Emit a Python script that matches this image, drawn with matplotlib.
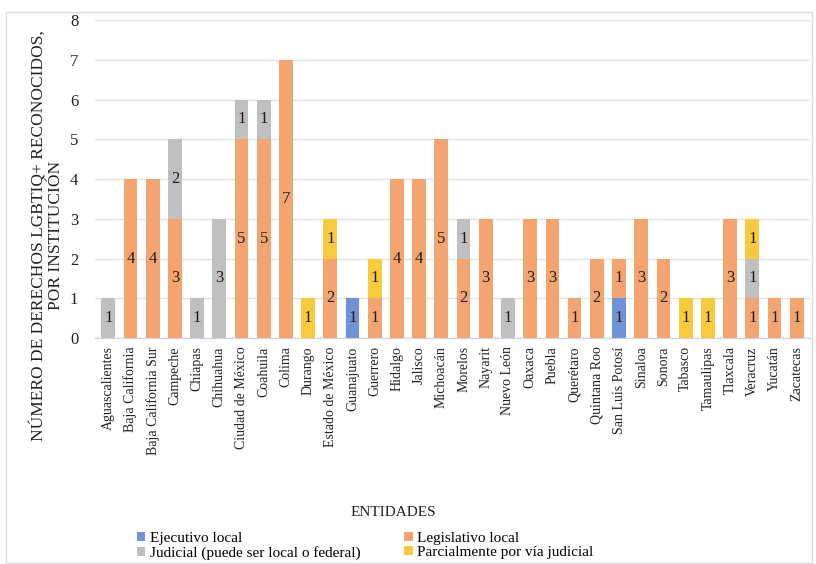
import numpy as np
import matplotlib.pyplot as plt
from matplotlib.patches import Rectangle

entidades = ["Aguascalientes", "Baja California", "Baja California Sur", "Campeche",
             "Chiapas", "Chihuahua", "Ciudad de México", "Coahuila", "Colima",
             "Durango", "Estado de México", "Guanajuato", "Guerrero", "Hidalgo",
             "Jalisco", "Michoacán", "Morelos", "Nayarit", "Nuevo León", "Oaxaca",
             "Puebla", "Querétaro", "Quintana Roo", "San Luis Potosí", "Sinaloa",
             "Sonora", "Tabasco", "Tamaulipas", "Tlaxcala", "Veracruz", "Yucatán",
             "Zacatecas"]

ejecutivo = [0, 0, 0, 0, 0, 0, 0, 0, 0, 0, 0, 1, 0, 0, 0, 0,
             0, 0, 0, 0, 0, 0, 0, 1, 0, 0, 0, 0, 0, 0, 0, 0]
legislativo = [0, 4, 4, 3, 0, 0, 5, 5, 7, 0, 2, 0, 1, 4, 4, 5,
               2, 3, 0, 3, 3, 1, 2, 1, 3, 2, 0, 0, 3, 1, 1, 1]
judicial = [1, 0, 0, 2, 1, 3, 1, 1, 0, 0, 0, 0, 0, 0, 0, 0,
            1, 0, 1, 0, 0, 0, 0, 0, 0, 0, 0, 0, 0, 1, 0, 0]
parcial = [0, 0, 0, 0, 0, 0, 0, 0, 0, 1, 1, 0, 1, 0, 0, 0,
           0, 0, 0, 0, 0, 0, 0, 0, 0, 0, 1, 1, 0, 1, 0, 0]

series = [
    ("Ejecutivo local", ejecutivo, "#6f93d6"),
    ("Legislativo local", legislativo, "#f4a46f"),
    ("Judicial (puede ser local o federal)", judicial, "#bfbfbf"),
    ("Parcialmente por vía judicial", parcial, "#f8ca3c"),
]

plt.rcParams['font.family'] = ['Liberation Serif', 'DejaVu Serif']

fig = plt.figure(figsize=(8.16, 5.64), dpi=100)
ax = fig.add_axes([0.1164, 0.4007, 0.8762, 0.5638])

x = np.arange(len(entidades))
bottom = np.zeros(len(entidades))
handles = {}
for name, vals, color in series:
    vals = np.array(vals, dtype=float)
    bars = ax.bar(x, vals, width=0.62, bottom=bottom, color=color, label=name, zorder=2)
    handles[name] = bars
    for xi, v, b in zip(x, vals, bottom):
        if v > 0:
            ax.text(xi, b + v / 2, f"{int(v)}", ha="center", va="center",
                    fontsize=12, color="#2a1a10", zorder=3)
    bottom += vals

ax.set_xlim(-0.6, len(entidades) - 0.4)
ax.set_ylim(0, 8)
ax.set_yticks(range(9))
ax.grid(axis="y", color="#e3e3e3", linewidth=1, zorder=0)
ax.set_xticks(x)
ax.set_xticklabels(entidades, rotation=90, color="#222222")
ax.tick_params(axis="both", length=0, colors="#222222")
ax.tick_params(axis="x", labelsize=10, pad=6)
ax.tick_params(axis="y", labelsize=12, pad=12)
for side in ["top", "right", "left"]:
    ax.spines[side].set_visible(False)
ax.spines["bottom"].set_color("#c9d3e3")

# y-axis title sits lower than the axes centre
fig.text(0.058, 0.583, "NÚMERO DE DERECHOS LGBTIQ+ RECONOCIDOS,\nPOR INSTITUCIÓN",
         rotation=90, ha="center", va="center", multialignment="center",
         fontsize=12.5, color="#222222", linespacing=1.0)

fig.text(0.482, 0.092, "ENTIDADES", ha="center", va="center", fontsize=11, color="#222222")

# row-wise legend order: Ejecutivo, Legislativo / Judicial, Parcialmente
order = ["Ejecutivo local", "Judicial (puede ser local o federal)",
         "Legislativo local", "Parcialmente por vía judicial"]
fig.legend(handles=[handles[n] for n in order], labels=order, ncol=2,
           loc="upper left", bbox_to_anchor=(0.158, 0.071), frameon=False,
           fontsize=11, handlelength=0.55, handleheight=0.55, handletextpad=0.3,
           columnspacing=2.9, labelspacing=0.1, borderpad=0)

fig.patches.append(Rectangle((0.007, 0.002), 0.988, 0.976, transform=fig.transFigure,
                             fill=False, edgecolor="#dcdcdc", linewidth=1))

fig.savefig("out.png", dpi=100, facecolor="white")
